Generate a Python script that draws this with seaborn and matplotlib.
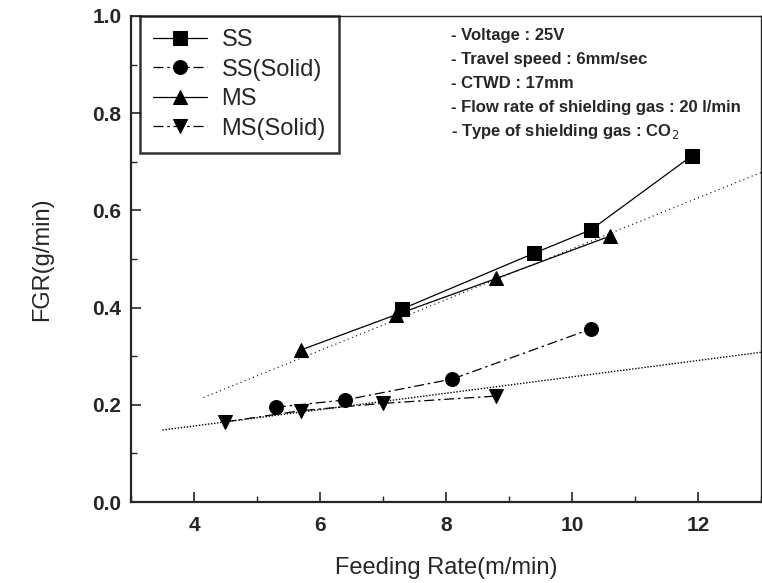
import matplotlib
matplotlib.use("Agg")
import matplotlib.pyplot as plt
from matplotlib.ticker import MultipleLocator
import seaborn as sns
import pandas as pd

# ---- data ----
ss_x = [7.3, 9.4, 10.3, 11.9]
ss_y = [0.397, 0.512, 0.560, 0.712]
ss_solid_x = [5.3, 6.4, 8.1, 10.3]
ss_solid_y = [0.195, 0.210, 0.253, 0.356]
ms_x = [5.7, 7.2, 8.8, 10.6]
ms_y = [0.313, 0.385, 0.460, 0.547]
ms_solid_x = [4.5, 5.7, 7.0, 8.8]
ms_solid_y = [0.165, 0.188, 0.203, 0.218]

# trend (fit) lines: end points
fit_hi_x = [4.15, 13.0]
fit_hi_y = [0.215, 0.678]
fit_lo_x = [3.5, 13.0]
fit_lo_y = [0.148, 0.308]

series_names = ["SS", "SS(Solid)", "MS", "MS(Solid)"]
notes = [
    "- Voltage : 25V",
    "- Travel speed : 6mm/sec",
    "- CTWD : 17mm",
    "- Flow rate of shielding gas : 20 l/min",
    "- Type of shielding gas : CO$_2$",
]
x_label = "Feeding Rate(m/min)"
y_label = "FGR(g/min)"

sns.set_style("ticks")
plt.rcParams["font.family"] = ["Liberation Sans", "DejaVu Sans"]

fig = plt.figure(figsize=(7.62, 5.83), dpi=100)
ax = fig.add_axes([131 / 762, 81 / 583, 630 / 762, 486 / 583])

frames = [
    (ss_x, ss_y, series_names[0], "s", (None, None)),
    (ss_solid_x, ss_solid_y, series_names[1], "o", (8, 3, 2, 3)),
    (ms_x, ms_y, series_names[2], "^", (None, None)),
    (ms_solid_x, ms_solid_y, series_names[3], "v", (8, 3, 2, 3)),
]
for xs, ys, name, mk, dash in frames:
    df = pd.DataFrame({"x": xs, "y": ys})
    kw = {}
    if dash[0] is not None:
        kw["dashes"] = dash
    sns.lineplot(data=df, x="x", y="y", ax=ax, color="black", marker=mk,
                 markersize=10, markeredgecolor="black", linewidth=0.9,
                 sort=False, label=name, **kw)

fit_df_hi = pd.DataFrame({"x": fit_hi_x, "y": fit_hi_y})
fit_df_lo = pd.DataFrame({"x": fit_lo_x, "y": fit_lo_y})
sns.lineplot(data=fit_df_hi, x="x", y="y", ax=ax, color="black",
             linewidth=0.8, linestyle=(0, (1, 3)), legend=False)
sns.lineplot(data=fit_df_lo, x="x", y="y", ax=ax, color="black",
             linewidth=1.0, linestyle=(0, (1, 1.2)), legend=False)

ax.set_xlim(3, 13)
ax.set_ylim(0, 1.0)
ax.xaxis.set_major_locator(MultipleLocator(2))
ax.xaxis.set_minor_locator(MultipleLocator(1))
ax.yaxis.set_major_locator(MultipleLocator(0.2))
ax.yaxis.set_minor_locator(MultipleLocator(0.1))
ax.set_yticklabels([f"{v:.1f}" for v in ax.get_yticks()])
ax.tick_params(which="major", direction="in", length=7, width=1.2,
               labelsize=15, pad=7)
ax.tick_params(which="minor", direction="in", length=4, width=1.0)
ax.tick_params(axis="x", pad=10)
for lbl in ax.get_xticklabels() + ax.get_yticklabels():
    lbl.set_fontweight("bold")
for side in ["left", "bottom"]:
    ax.spines[side].set_linewidth(1.6)
for side in ["top", "right"]:
    ax.spines[side].set_visible(True)
    ax.spines[side].set_linewidth(1.0)

ax.set_xlabel(x_label, fontsize=17, labelpad=16)
ax.set_ylabel(y_label, fontsize=17, labelpad=28)

leg = ax.legend(loc="upper left", bbox_to_anchor=(9 / 630, 1.0),
                borderaxespad=0, fontsize=17, frameon=True, fancybox=False,
                handlelength=2.3, handletextpad=0.6, labelspacing=0.32,
                borderpad=0.55)
leg.get_frame().set_edgecolor("black")
leg.get_frame().set_linewidth(1.8)

for i, t in enumerate(notes):
    ax.text(0.508, 0.96 - i * 0.0494, t, transform=ax.transAxes,
            fontsize=12, fontweight="bold", va="center", ha="left")

fig.savefig("out.png", dpi=100)
